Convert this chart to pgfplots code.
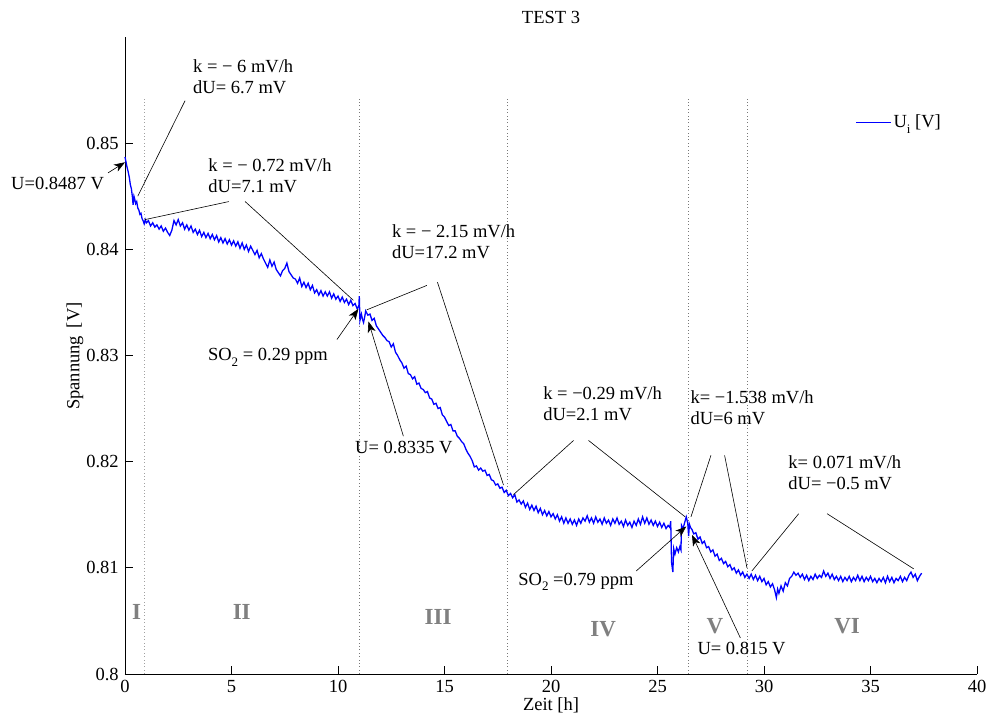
\documentclass[border=0pt]{standalone}
\usepackage{fontspec}
\setmainfont{Liberation Serif}
\usepackage{pgfplots}
\pgfplotsset{compat=1.18}
\usetikzlibrary{arrows.meta}
\definecolor{regiongray}{RGB}{128,128,128}
\definecolor{dotgray}{RGB}{120,120,120}
\newcommand{\sub}[1]{\raisebox{-0.7ex}{\fontsize{13}{13}\selectfont #1}}
\begin{document}
\fontsize{18.5}{21}\selectfont
\begin{tikzpicture}
\begin{axis}[
  name=ax,
  scale only axis,
  width=852pt, height=637pt,
  xmin=0, xmax=40, ymin=0.8, ymax=0.86,
  axis lines=left,
  axis line style={-, black, line width=0.8pt},
  xtick={0,5,10,15,20,25,30,35,40},
  xticklabels={0,5,10,15,20,25,30,35,40},
  ytick={0.8,0.81,0.82,0.83,0.84,0.85},
  yticklabels={0.8,0.81,0.82,0.83,0.84,0.85},
  tick align=inside,
  major tick length=8pt,
  tick style={black, line width=0.8pt},
  ticklabel style={font=\fontsize{18.5}{21}\selectfont},
  /pgf/number format/assume math mode=true,
  clip=false,
  legend style={at={(axis cs:34.29,0.85199)}, anchor=west, draw=none, fill=none,
    inner sep=0pt, font=\fontsize{18.5}{21}\selectfont},
  legend cell align=left,
  legend image code/.code={\draw[#1, line width=1pt] (0pt,0pt) -- (35pt,0pt);},
]
% phase boundaries
\addplot[dotgray!70, line width=0.8pt, dash pattern=on 0.8pt off 2.6pt, forget plot] coordinates {(0.9,0.8) (0.9,0.8542)};
\addplot[dotgray, line width=0.8pt, dash pattern=on 0.8pt off 2.6pt, forget plot] coordinates {(11.0,0.8) (11.0,0.8542)};
\addplot[dotgray, line width=0.8pt, dash pattern=on 0.8pt off 2.6pt, forget plot] coordinates {(17.95,0.8) (17.95,0.8542)};
\addplot[dotgray, line width=0.8pt, dash pattern=on 0.8pt off 2.6pt, forget plot] coordinates {(26.45,0.8) (26.45,0.8542)};
\addplot[dotgray, line width=0.8pt, dash pattern=on 0.8pt off 2.6pt, forget plot] coordinates {(29.2,0.8) (29.2,0.8542)};

\addplot[blue, line width=1.3pt] coordinates {
(0.00,0.84870) (0.05,0.84820) (0.10,0.84770) (0.15,0.84730) (0.20,0.84680)
(0.25,0.84610) (0.30,0.84570) (0.35,0.84490) (0.38,0.84420) (0.42,0.84500)
(0.46,0.84470) (0.50,0.84430) (0.55,0.84450) (0.60,0.84390) (0.65,0.84370)
(0.70,0.84330) (0.75,0.84340) (0.80,0.84290) (0.85,0.84270) (0.90,0.84240)
(0.95,0.84280) (1.00,0.84250) (1.10,0.84270) (1.20,0.84220) (1.30,0.84250)
(1.40,0.84210) (1.50,0.84230) (1.60,0.84190) (1.70,0.84220) (1.80,0.84170)
(1.90,0.84200) (2.00,0.84160) (2.10,0.84130) (2.20,0.84180) (2.30,0.84270)
(2.40,0.84230) (2.50,0.84280) (2.60,0.84220) (2.70,0.84250) (2.80,0.84190)
(2.90,0.84230) (3.00,0.84180) (3.10,0.84220) (3.20,0.84160) (3.30,0.84190)
(3.40,0.84140) (3.50,0.84180) (3.60,0.84120) (3.70,0.84160) (3.80,0.84110)
(3.90,0.84150) (4.00,0.84100) (4.10,0.84140) (4.20,0.84090) (4.30,0.84130)
(4.40,0.84070) (4.50,0.84110) (4.60,0.84060) (4.70,0.84100) (4.80,0.84050)
(4.90,0.84090) (5.00,0.84040) (5.10,0.84080) (5.20,0.84030) (5.30,0.84070)
(5.40,0.84010) (5.50,0.84060) (5.60,0.84000) (5.70,0.84040) (5.80,0.83980)
(5.90,0.84030) (6.00,0.83990) (6.10,0.83950) (6.20,0.83990) (6.30,0.83920)
(6.40,0.83960) (6.50,0.83910) (6.60,0.83870) (6.70,0.83830) (6.80,0.83900)
(6.90,0.83840) (7.00,0.83880) (7.10,0.83810) (7.20,0.83780) (7.30,0.83750)
(7.40,0.83800) (7.50,0.83820) (7.60,0.83870) (7.70,0.83790) (7.80,0.83760)
(7.90,0.83730) (8.00,0.83720) (8.10,0.83680) (8.20,0.83730) (8.30,0.83650)
(8.40,0.83690) (8.50,0.83640) (8.60,0.83680) (8.70,0.83620) (8.80,0.83660)
(8.90,0.83590) (9.00,0.83620) (9.10,0.83570) (9.20,0.83610) (9.30,0.83560)
(9.40,0.83600) (9.50,0.83560) (9.60,0.83600) (9.70,0.83540) (9.80,0.83580)
(9.90,0.83530) (10.00,0.83560) (10.10,0.83510) (10.20,0.83550) (10.30,0.83500)
(10.40,0.83530) (10.50,0.83480) (10.60,0.83520) (10.70,0.83470) (10.80,0.83490)
(10.90,0.83440) (10.98,0.83470) (11.00,0.83560) (11.03,0.83330) (11.10,0.83390)
(11.15,0.83340) (11.20,0.83310) (11.25,0.83360) (11.30,0.83420) (11.40,0.83380)
(11.50,0.83390) (11.60,0.83330) (11.70,0.83350) (11.80,0.83280) (11.90,0.83250)
(12.00,0.83220) (12.10,0.83190) (12.20,0.83170) (12.30,0.83140) (12.40,0.83130)
(12.50,0.83080) (12.60,0.83110) (12.70,0.83030) (12.80,0.83000) (12.90,0.82960)
(13.00,0.82930) (13.10,0.82880) (13.20,0.82900) (13.30,0.82830) (13.40,0.82820)
(13.50,0.82780) (13.60,0.82800) (13.70,0.82730) (13.80,0.82740) (13.90,0.82690)
(14.00,0.82680) (14.10,0.82650) (14.20,0.82660) (14.30,0.82600) (14.40,0.82590)
(14.50,0.82540) (14.60,0.82550) (14.70,0.82500) (14.80,0.82510) (14.90,0.82440)
(15.00,0.82420) (15.10,0.82380) (15.20,0.82340) (15.30,0.82350) (15.40,0.82290)
(15.50,0.82290) (15.60,0.82240) (15.70,0.82220) (15.80,0.82190) (15.90,0.82170)
(16.00,0.82120) (16.10,0.82080) (16.20,0.82050) (16.30,0.82010) (16.40,0.81950)
(16.50,0.81960) (16.60,0.81920) (16.70,0.81940) (16.80,0.81910) (16.90,0.81920)
(17.00,0.81870) (17.10,0.81880) (17.20,0.81830) (17.30,0.81820) (17.40,0.81780)
(17.50,0.81790) (17.60,0.81750) (17.70,0.81760) (17.80,0.81710) (17.90,0.81730)
(18.00,0.81680) (18.10,0.81700) (18.20,0.81660) (18.30,0.81690) (18.40,0.81620)
(18.50,0.81640) (18.60,0.81600) (18.70,0.81630) (18.80,0.81570) (18.90,0.81610)
(19.00,0.81550) (19.10,0.81590) (19.20,0.81540) (19.30,0.81580) (19.40,0.81520)
(19.50,0.81560) (19.60,0.81500) (19.70,0.81540) (19.80,0.81490) (19.90,0.81530)
(20.00,0.81480) (20.10,0.81510) (20.20,0.81460) (20.30,0.81500) (20.40,0.81440)
(20.50,0.81480) (20.60,0.81420) (20.70,0.81470) (20.80,0.81420) (20.90,0.81460)
(21.00,0.81410) (21.10,0.81450) (21.20,0.81400) (21.30,0.81460) (21.40,0.81420)
(21.50,0.81470) (21.60,0.81440) (21.70,0.81490) (21.80,0.81430) (21.90,0.81470)
(22.00,0.81420) (22.10,0.81480) (22.20,0.81430) (22.30,0.81460) (22.40,0.81410)
(22.50,0.81470) (22.60,0.81420) (22.70,0.81450) (22.80,0.81400) (22.90,0.81460)
(23.00,0.81420) (23.10,0.81470) (23.20,0.81410) (23.30,0.81440) (23.40,0.81390)
(23.50,0.81450) (23.60,0.81400) (23.70,0.81430) (23.80,0.81380) (23.90,0.81440)
(24.00,0.81400) (24.10,0.81460) (24.20,0.81410) (24.30,0.81480) (24.40,0.81420)
(24.50,0.81470) (24.60,0.81410) (24.70,0.81450) (24.80,0.81400) (24.90,0.81440)
(25.00,0.81390) (25.10,0.81430) (25.20,0.81380) (25.30,0.81420) (25.40,0.81370)
(25.50,0.81400) (25.58,0.81380) (25.62,0.81440) (25.66,0.81050) (25.72,0.80960)
(25.76,0.81180) (25.82,0.81130) (25.90,0.81190) (25.98,0.81150) (26.05,0.81200)
(26.10,0.81170) (26.13,0.81400) (26.20,0.81370) (26.28,0.81430) (26.35,0.81480)
(26.42,0.81420) (26.46,0.81300) (26.50,0.81410) (26.55,0.81380) (26.62,0.81360)
(26.70,0.81320) (26.80,0.81330) (26.90,0.81270) (27.00,0.81290) (27.10,0.81230)
(27.20,0.81250) (27.30,0.81190) (27.40,0.81200) (27.50,0.81150) (27.60,0.81170)
(27.70,0.81110) (27.80,0.81130) (27.90,0.81070) (28.00,0.81090) (28.10,0.81040)
(28.20,0.81060) (28.30,0.81010) (28.40,0.81030) (28.50,0.80980) (28.60,0.81000)
(28.70,0.80950) (28.80,0.80980) (28.90,0.80930) (29.00,0.80960) (29.10,0.80910)
(29.20,0.80940) (29.30,0.80900) (29.40,0.80940) (29.50,0.80890) (29.60,0.80930)
(29.70,0.80880) (29.80,0.80920) (29.90,0.80870) (30.00,0.80900) (30.10,0.80840)
(30.20,0.80870) (30.30,0.80820) (30.40,0.80850) (30.50,0.80790) (30.58,0.80720)
(30.64,0.80800) (30.70,0.80760) (30.80,0.80830) (30.90,0.80780) (31.00,0.80860)
(31.10,0.80830) (31.20,0.80900) (31.30,0.80920) (31.40,0.80960) (31.50,0.80930)
(31.60,0.80950) (31.70,0.80910) (31.80,0.80940) (31.90,0.80890) (32.00,0.80930)
(32.10,0.80880) (32.20,0.80920) (32.30,0.80890) (32.40,0.80940) (32.50,0.80900)
(32.60,0.80930) (32.70,0.80910) (32.80,0.80970) (32.90,0.80920) (33.00,0.80950)
(33.10,0.80900) (33.20,0.80940) (33.30,0.80890) (33.40,0.80920) (33.50,0.80880)
(33.60,0.80920) (33.70,0.80870) (33.80,0.80910) (33.90,0.80880) (34.00,0.80920)
(34.10,0.80870) (34.20,0.80910) (34.30,0.80880) (34.40,0.80930) (34.50,0.80880)
(34.60,0.80920) (34.70,0.80870) (34.80,0.80910) (34.90,0.80880) (35.00,0.80920)
(35.10,0.80870) (35.20,0.80900) (35.30,0.80860) (35.40,0.80900) (35.50,0.80870)
(35.60,0.80910) (35.70,0.80860) (35.80,0.80920) (35.90,0.80870) (36.00,0.80910)
(36.10,0.80860) (36.20,0.80900) (36.30,0.80880) (36.40,0.80920) (36.50,0.80870)
(36.60,0.80910) (36.70,0.80880) (36.80,0.80930) (36.90,0.80960) (37.00,0.80910)
(37.10,0.80940) (37.20,0.80880) (37.30,0.80920) (37.40,0.80950)
};
\addlegendentry{U\sub{i} [V]}

% title and axis labels
\node[anchor=center] at (axis cs:20,0.86183) {TEST 3};
\node[anchor=center] at (axis cs:20,0.79702) {Zeit [h]};
\node[anchor=center, rotate=90] at (axis cs:-2.35,0.82994) {Spannung\, [V]};

% region labels
\begin{scope}[every node/.style={text=regiongray, font=\fontsize{23}{25}\selectfont\bfseries}]
\node at (axis cs:0.55,0.8058) {I};
\node at (axis cs:5.48,0.8058) {II};
\node at (axis cs:14.7,0.8054) {III};
\node at (axis cs:22.45,0.8042) {IV};
\node at (axis cs:27.7,0.8045) {V};
\node at (axis cs:33.9,0.8045) {VI};
\end{scope}

% annotations
\begin{scope}[every node/.style={inner sep=0pt, align=left}]
\node[anchor=west] at (axis cs:3.19,0.85624) {k = − 6 mV/h\\dU= 6.7 mV};
\node[anchor=west] at (axis cs:-5.35,0.84617) {U=0.8487 V};
\node[anchor=west] at (axis cs:3.91,0.84697) {k = − 0.72 mV/h\\dU=7.1 mV};
\node[anchor=west] at (axis cs:12.53,0.84067) {k = − 2.15 mV/h\\dU=17.2 mV};
\node[anchor=east] at (axis cs:9.53,0.82985) {SO\sub{2} = 0.29 ppm};
\node[anchor=west] at (axis cs:10.80,0.82129) {U= 0.8335 V};
\node[anchor=west] at (axis cs:19.63,0.82543) {k = −0.29 mV/h\\dU=2.1 mV};
\node[anchor=west] at (axis cs:26.54,0.82505) {k= −1.538 mV/h\\dU=6 mV};
\node[anchor=west] at (axis cs:31.14,0.81894) {k= 0.071 mV/h\\dU= −0.5 mV};
\node[anchor=west] at (axis cs:18.46,0.80868) {SO\sub{2} =0.79 ppm};
\node[anchor=west] at (axis cs:26.87,0.80238) {U= 0.815 V};
\end{scope}

\begin{scope}[line width=0.6pt]
\draw (axis cs:2.82,0.8540) -- (axis cs:0.6,0.8450);
\draw (axis cs:4.88,0.8445) -- (axis cs:0.94,0.8428);
\draw (axis cs:5.64,0.8445) -- (axis cs:10.72,0.8352);
\draw (axis cs:14.17,0.8366) -- (axis cs:11.35,0.8343);
\draw (axis cs:14.67,0.8369) -- (axis cs:17.77,0.8178);
\draw (axis cs:21.06,0.8220) -- (axis cs:18.24,0.8169);
\draw (axis cs:21.76,0.8220) -- (axis cs:26.3,0.8148);
\draw (axis cs:27.51,0.8206) -- (axis cs:26.57,0.8148);
\draw (axis cs:28.15,0.8206) -- (axis cs:29.2,0.8100);
\draw (axis cs:31.63,0.8151) -- (axis cs:29.43,0.8097);
\draw (axis cs:32.96,0.8151) -- (axis cs:37.03,0.8099);
\draw[-{Stealth[length=11pt,width=8pt,inset=3pt]}] (axis cs:-0.8,0.8472) -- (axis cs:0,0.8482);
\draw[-{Stealth[length=11pt,width=8pt,inset=3pt]}] (axis cs:9.95,0.8315) -- (axis cs:10.96,0.8344);
\draw[-{Stealth[length=11pt,width=8pt,inset=3pt]}] (axis cs:13.07,0.8224) -- (axis cs:11.43,0.8332);
\draw[-{Stealth[length=11pt,width=8pt,inset=3pt]}] (axis cs:24.0,0.8097) -- (axis cs:26.35,0.8139);
\draw[-{Stealth[length=11pt,width=8pt,inset=3pt]}] (axis cs:28.89,0.8034) -- (axis cs:26.62,0.8131);
\end{scope}
\end{axis}
\pgfresetboundingbox
\path ([shift={(-125pt,-43pt)}]ax.south west) rectangle ([shift={(11pt,37pt)}]ax.north east);
\end{tikzpicture}
\end{document}
